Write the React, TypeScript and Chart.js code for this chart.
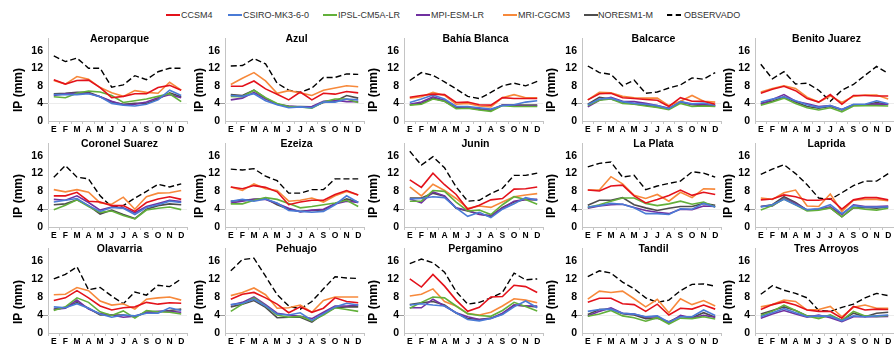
import React, { useEffect, useRef } from "react";
import { Chart, registerables } from "chart.js";

Chart.register(...registerables);

const MONTHS = ["E", "F", "M", "A", "M", "J", "J", "A", "S", "O", "N", "D"];
const STATIONS = [
  "Aeroparque", "Azul", "Bahía Blanca", "Balcarce", "Benito Juarez",
  "Coronel Suarez", "Ezeiza", "Junin", "La Plata", "Laprida",
  "Olavarria", "Pehuajo", "Pergamino", "Tandil", "Tres Arroyos",
];
const Y_TICKS = [0, 4, 8, 12, 16];
const Y_MAX = 18.8;
const Y_LABEL = "IP (mm)";

// One row per station (same order as STATIONS), 12 monthly values each
const CCSM4 = [
  [9.4, 8.4, 9.2, 9.3, 7.6, 5.3, 5.6, 6.2, 6.2, 7.6, 8.1, 7.0],
  [7.9, 7.9, 9.1, 7.3, 6.1, 4.8, 6.6, 4.8, 6.3, 6.1, 6.7, 6.4],
  [5.4, 5.8, 6.1, 6.0, 4.2, 4.3, 3.7, 3.6, 5.3, 5.1, 5.1, 5.1],
  [4.8, 6.2, 6.3, 5.3, 5.1, 4.9, 4.7, 3.3, 5.3, 4.5, 4.5, 3.8],
  [6.3, 7.2, 7.9, 6.9, 5.1, 4.3, 6.0, 3.8, 5.8, 5.8, 5.7, 5.7],
  [7.0, 7.0, 7.8, 5.8, 5.6, 4.8, 4.8, 3.5, 5.5, 6.3, 6.8, 6.2],
  [9.0, 8.6, 9.3, 8.9, 7.9, 5.0, 5.6, 6.0, 6.0, 7.3, 8.2, 7.2],
  [10.6, 8.9, 12.1, 9.5, 7.3, 4.0, 4.9, 6.1, 6.4, 8.5, 8.6, 9.0],
  [8.3, 8.1, 9.2, 9.4, 7.0, 5.4, 6.2, 7.1, 8.3, 7.1, 7.8, 7.3],
  [6.1, 6.3, 7.2, 6.8, 6.0, 6.0, 6.4, 4.0, 6.1, 6.6, 6.6, 6.1],
  [7.2, 7.8, 9.4, 7.8, 6.0, 5.1, 5.6, 5.8, 6.8, 6.4, 6.7, 6.6],
  [7.5, 8.6, 9.0, 7.8, 6.4, 4.5, 5.8, 4.6, 5.5, 7.8, 7.0, 6.7],
  [12.0, 10.2, 13.0, 10.4, 7.3, 4.8, 5.7, 8.0, 8.1, 10.6, 10.3, 9.0],
  [6.8, 7.7, 7.7, 6.5, 6.3, 4.8, 6.4, 4.0, 5.5, 5.3, 6.2, 5.3],
  [5.2, 6.3, 6.9, 6.2, 5.1, 4.8, 4.8, 3.3, 5.9, 5.1, 5.3, 5.2],
];

const CSIRO = [
  [6.0, 6.0, 6.0, 6.2, 5.5, 4.0, 3.6, 3.4, 3.8, 4.8, 7.0, 5.8],
  [5.8, 5.6, 6.2, 4.6, 3.7, 3.0, 3.2, 3.0, 4.3, 4.3, 5.0, 4.8],
  [4.2, 5.0, 5.9, 5.0, 3.3, 3.3, 3.0, 2.7, 3.5, 3.7, 4.3, 4.6],
  [3.7, 5.0, 5.2, 4.4, 4.0, 3.8, 3.5, 2.8, 4.4, 3.9, 4.1, 3.6],
  [4.3, 5.0, 5.5, 4.6, 3.7, 3.1, 3.5, 2.6, 3.8, 3.8, 4.6, 3.9],
  [5.6, 6.0, 6.4, 4.8, 3.5, 4.4, 4.2, 2.8, 4.4, 5.0, 5.8, 5.5],
  [5.8, 6.2, 5.8, 6.3, 5.4, 3.7, 3.5, 3.3, 3.5, 5.0, 7.0, 5.5],
  [6.3, 6.4, 6.8, 6.6, 4.3, 2.4, 3.3, 2.1, 4.0, 5.2, 6.6, 6.0],
  [4.5, 4.8, 5.3, 5.1, 4.3, 3.0, 3.0, 2.8, 4.1, 4.0, 5.3, 4.5],
  [4.5, 5.0, 6.2, 5.0, 3.9, 4.1, 5.0, 3.0, 4.8, 4.5, 4.5, 4.5],
  [5.8, 5.6, 6.5, 5.5, 4.2, 3.5, 4.0, 3.8, 4.4, 4.4, 5.6, 5.0],
  [6.3, 6.6, 7.5, 6.0, 4.2, 4.0, 4.5, 2.8, 4.3, 5.8, 6.6, 6.2],
  [6.2, 6.5, 6.2, 6.0, 4.5, 3.0, 2.7, 3.2, 4.1, 5.8, 7.1, 5.6],
  [4.8, 5.2, 5.3, 4.4, 4.2, 3.6, 3.8, 2.4, 3.6, 3.6, 5.1, 3.9],
  [3.6, 4.5, 5.4, 4.5, 3.6, 3.8, 3.7, 2.7, 3.8, 3.6, 3.8, 4.0],
];

const IPSL = [
  [5.5, 5.3, 6.3, 6.8, 6.6, 5.8, 4.2, 4.6, 5.0, 5.6, 6.2, 4.4],
  [5.6, 5.5, 7.0, 5.3, 4.0, 3.3, 3.2, 2.9, 4.3, 5.0, 5.0, 4.2],
  [3.6, 3.8, 5.0, 4.5, 2.8, 2.9, 2.5, 2.2, 3.5, 3.3, 3.3, 3.3],
  [3.5, 4.7, 5.0, 4.0, 3.8, 3.4, 3.1, 2.6, 4.0, 3.3, 3.4, 3.3],
  [3.6, 4.3, 5.2, 4.0, 3.0, 2.5, 3.0, 2.1, 3.4, 3.5, 3.5, 3.4],
  [3.9, 4.9, 6.1, 4.6, 3.3, 3.6, 2.6, 1.8, 3.8, 4.2, 4.5, 3.9],
  [5.2, 5.2, 6.0, 6.6, 6.2, 5.3, 4.3, 4.6, 5.0, 5.4, 6.0, 4.6],
  [5.8, 5.8, 8.2, 8.0, 5.6, 3.6, 3.8, 2.8, 5.0, 6.8, 6.2, 5.1],
  [4.4, 5.0, 5.8, 6.5, 6.5, 5.3, 4.8, 5.2, 5.8, 5.1, 5.6, 4.5],
  [3.8, 4.8, 6.3, 5.0, 3.6, 3.8, 4.3, 2.3, 4.4, 4.0, 3.8, 4.2],
  [5.0, 5.8, 7.8, 6.8, 4.7, 3.9, 4.9, 3.3, 5.0, 4.7, 4.6, 4.2],
  [4.8, 6.4, 7.8, 6.0, 4.0, 3.5, 3.7, 2.7, 4.0, 5.6, 5.2, 4.8],
  [5.5, 6.8, 8.0, 7.8, 6.0, 4.3, 3.9, 3.7, 5.0, 6.8, 5.9, 4.9],
  [3.7, 4.2, 5.0, 3.8, 3.4, 2.6, 3.4, 2.0, 3.3, 3.2, 3.6, 3.1],
  [3.9, 4.8, 6.2, 5.0, 3.8, 3.2, 4.0, 2.8, 4.8, 3.8, 3.7, 3.9],
];

const MPI = [
  [5.8, 6.2, 6.3, 6.3, 5.5, 4.5, 3.7, 3.8, 4.3, 5.3, 6.0, 5.3],
  [4.8, 5.2, 6.5, 5.0, 3.8, 3.4, 3.2, 3.3, 4.5, 4.7, 4.4, 4.4],
  [3.8, 4.3, 5.5, 4.7, 3.3, 3.0, 2.8, 2.5, 3.6, 3.6, 3.4, 3.5],
  [3.2, 4.7, 5.4, 4.5, 4.4, 4.0, 3.5, 2.9, 4.2, 3.8, 3.8, 3.5],
  [3.8, 4.9, 6.0, 4.5, 3.9, 3.3, 3.5, 2.6, 3.7, 3.7, 3.9, 3.8],
  [6.2, 6.0, 7.0, 5.5, 3.8, 4.5, 4.3, 3.2, 4.6, 5.3, 6.0, 5.7],
  [5.4, 5.8, 6.2, 6.2, 5.3, 4.2, 3.4, 3.8, 4.0, 5.2, 5.8, 5.5],
  [6.3, 5.4, 7.9, 7.0, 4.3, 3.7, 2.8, 2.6, 4.2, 5.8, 6.2, 6.2],
  [4.2, 4.7, 5.0, 5.1, 4.4, 3.7, 3.3, 3.0, 4.0, 3.9, 4.7, 4.6],
  [4.6, 4.7, 6.5, 5.3, 3.8, 4.0, 4.5, 2.8, 5.0, 4.6, 4.6, 4.7],
  [5.2, 5.5, 7.3, 5.3, 4.3, 4.0, 3.5, 3.7, 4.6, 4.8, 4.8, 4.6],
  [6.2, 6.8, 8.0, 6.3, 4.4, 4.0, 3.7, 3.2, 4.6, 6.0, 6.0, 6.2],
  [5.6, 5.6, 7.5, 6.0, 4.5, 3.6, 3.0, 3.2, 4.4, 6.2, 6.0, 6.0],
  [3.8, 4.8, 5.6, 4.4, 4.2, 3.5, 3.7, 2.2, 3.9, 3.3, 3.9, 3.5],
  [3.3, 4.2, 5.0, 4.2, 3.5, 4.0, 3.4, 2.5, 3.6, 3.6, 3.6, 3.7],
];

const MRI = [
  [9.2, 8.4, 10.1, 9.5, 7.6, 6.4, 5.6, 6.9, 6.5, 6.3, 8.8, 7.0],
  [8.3, 9.7, 11.0, 9.1, 6.3, 6.9, 6.4, 5.8, 7.0, 7.5, 8.0, 7.8],
  [5.2, 5.5, 6.5, 5.8, 3.8, 4.0, 3.4, 3.2, 5.3, 6.0, 5.3, 5.3],
  [4.8, 6.5, 6.4, 5.6, 5.3, 5.2, 5.2, 3.5, 4.5, 5.8, 4.5, 4.3],
  [6.6, 7.4, 8.0, 7.4, 5.4, 4.3, 5.7, 4.2, 5.6, 5.9, 5.9, 5.0],
  [8.4, 7.9, 8.4, 7.8, 5.4, 5.1, 6.7, 4.0, 6.8, 7.6, 7.7, 8.2],
  [9.0, 8.2, 9.7, 8.6, 8.2, 5.8, 6.0, 6.5, 5.6, 7.0, 8.0, 7.2],
  [9.0, 7.0, 9.6, 8.2, 6.4, 4.2, 4.7, 4.4, 5.6, 6.8, 7.2, 7.5],
  [8.3, 8.3, 11.3, 9.7, 7.1, 6.4, 7.3, 5.8, 7.8, 6.6, 8.6, 8.5],
  [6.5, 6.2, 7.7, 8.3, 4.7, 4.6, 7.4, 3.5, 6.0, 6.2, 6.2, 5.9],
  [8.5, 8.6, 10.1, 9.4, 7.1, 6.2, 6.5, 5.3, 7.5, 7.8, 8.0, 7.3],
  [8.3, 9.0, 10.0, 8.5, 5.5, 5.6, 6.2, 4.6, 7.2, 8.0, 8.0, 8.0],
  [8.2, 8.6, 9.8, 7.0, 6.0, 4.3, 4.0, 4.6, 6.0, 7.6, 7.3, 6.7],
  [7.5, 9.3, 9.0, 9.3, 7.6, 5.8, 7.5, 4.5, 7.6, 6.3, 7.2, 6.0],
  [5.8, 6.3, 7.3, 7.0, 5.1, 5.2, 5.9, 3.6, 5.7, 6.2, 5.5, 5.5],
];

const NORESM = [
  [6.2, 6.3, 6.5, 6.5, 5.5, 4.3, 3.8, 4.0, 4.0, 5.0, 6.4, 5.5],
  [6.0, 5.8, 7.0, 5.2, 3.8, 3.3, 3.3, 3.2, 4.2, 4.5, 5.8, 5.2],
  [3.7, 4.0, 5.2, 4.5, 3.0, 3.0, 2.6, 2.4, 3.6, 3.6, 3.6, 3.6],
  [3.8, 5.4, 5.0, 4.3, 3.9, 3.6, 3.2, 2.8, 4.4, 3.7, 3.5, 3.4],
  [4.0, 4.5, 5.5, 4.3, 3.3, 2.9, 3.3, 2.5, 3.7, 3.7, 4.2, 3.8],
  [5.0, 5.2, 6.1, 4.8, 2.9, 3.8, 2.8, 1.9, 4.0, 4.8, 5.2, 5.0],
  [5.8, 6.0, 6.2, 6.4, 5.0, 4.0, 3.5, 3.7, 3.8, 5.2, 6.3, 5.6],
  [6.5, 6.5, 7.6, 6.9, 4.2, 3.6, 2.9, 2.4, 4.4, 5.6, 6.2, 6.1],
  [4.9, 6.0, 6.0, 6.6, 5.0, 4.3, 3.7, 4.2, 4.6, 4.6, 5.3, 4.9],
  [4.6, 5.0, 6.8, 5.5, 3.8, 4.0, 4.3, 2.3, 4.3, 4.4, 4.2, 4.5],
  [5.3, 5.6, 6.8, 5.5, 4.0, 4.0, 4.0, 3.6, 4.6, 4.7, 5.0, 5.3],
  [5.8, 6.4, 7.2, 5.7, 3.4, 3.5, 3.5, 2.4, 4.3, 5.6, 5.8, 5.8],
  [6.3, 6.7, 7.0, 6.2, 4.4, 3.2, 3.0, 3.3, 4.2, 6.2, 6.0, 5.8],
  [4.1, 5.2, 5.3, 4.3, 4.0, 3.2, 3.3, 2.5, 3.7, 3.4, 4.5, 3.5],
  [4.2, 5.0, 5.8, 5.0, 3.8, 3.6, 3.8, 2.8, 4.4, 3.6, 4.4, 4.6],
];

const OBSERVADO = [
  [14.8, 13.5, 14.3, 12.0, 12.0, 7.7, 8.2, 10.3, 9.4, 11.2, 12.0, 12.0],
  [12.5, 12.6, 14.2, 13.0, 8.6, 7.0, 6.5, 7.5, 9.9, 9.9, 10.7, 10.6],
  [9.2, 11.0, 10.4, 8.9, 7.3, 5.6, 5.1, 6.5, 8.0, 8.6, 8.0, 9.0],
  [12.5, 11.0, 10.6, 8.0, 9.3, 6.3, 6.6, 7.5, 8.2, 9.8, 9.5, 11.0],
  [12.9, 9.6, 11.2, 8.4, 8.6, 7.0, 4.5, 7.0, 8.3, 10.4, 12.4, 10.8],
  [11.2, 13.8, 11.2, 10.8, 7.0, 4.5, 4.8, 6.5, 8.0, 9.6, 9.0, 9.7],
  [13.0, 12.8, 13.1, 11.4, 10.4, 7.6, 7.6, 8.4, 8.4, 10.8, 10.8, 10.8],
  [17.0, 13.9, 15.8, 13.3, 9.0, 5.8, 6.0, 7.5, 8.7, 11.6, 11.6, 12.1],
  [13.5, 14.3, 14.6, 11.2, 11.6, 8.4, 9.2, 9.8, 10.3, 12.4, 12.1, 11.2],
  [11.8, 13.0, 14.0, 12.0, 9.5, 6.5, 6.2, 7.7, 9.3, 10.3, 10.3, 12.0],
  [12.0, 13.0, 14.7, 9.6, 10.1, 8.2, 6.5, 9.1, 8.4, 10.6, 10.3, 12.0],
  [13.8, 16.3, 16.6, 12.6, 8.5, 6.0, 5.3, 7.0, 9.8, 12.5, 12.2, 12.1],
  [15.4, 16.4, 15.6, 13.5, 9.2, 6.4, 6.8, 7.8, 9.0, 13.3, 11.8, 12.0],
  [12.5, 13.8, 13.3, 11.3, 9.8, 7.8, 6.8, 7.3, 9.4, 10.8, 10.9, 10.4],
  [8.6, 10.5, 9.5, 8.8, 7.8, 5.0, 4.8, 5.7, 6.4, 7.8, 8.8, 8.3],
];

const SERIES_NAMES = ["CCSM4", "CSIRO-MK3-6-0", "IPSL-CM5A-LR", "MPI-ESM-LR", "MRI-CGCM3", "NORESM1-M", "OBSERVADO"];
const SERIES_DATA = [CCSM4, CSIRO, IPSL, MPI, MRI, NORESM, OBSERVADO];
const SERIES_COLORS = ["#e3121b", "#4a7bd6", "#62b03a", "#7030a0", "#f7893b", "#4d4d4d", "#000000"];

// ---- layout (styles only) ----
const FONT = '"Liberation Sans", Arial, Helvetica, sans-serif';
const AXIS_X = [48, 225, 404, 582, 755];
const YLABEL_OFF = [29, 25, 30, 30, 26];
const ROW_BOTTOM = [121, 227, 333];
const ROW_PLOT_H = [84, 85, 86];
const Y_AXIS_W = 48;
const X_AXIS_H = 14;
const PAD_TOP = 10;
const PAD_RIGHT = 4;
const PLOT_W = 139;
const LEGEND_LINE_X = [166, 228, 323, 416, 503, 584, 667];
const LEGEND_TEXT_X = [181, 243, 338, 431, 518, 598, 684];
const LEGEND_Y = 15;

const decorPlugin = {
  id: "decor",
  beforeDatasetsDraw(chart: any) {
    const { ctx, chartArea } = chart;
    const y4 = Math.round(chart.scales.y.getPixelForValue(4)) + 0.5;
    ctx.save();
    ctx.lineWidth = 1;
    ctx.strokeStyle = "#ececec";
    ctx.beginPath();
    ctx.moveTo(chartArea.left, y4);
    ctx.lineTo(chartArea.right, y4);
    ctx.stroke();
    ctx.strokeStyle = "#9a9a9a";
    ctx.beginPath();
    ctx.moveTo(chartArea.left - 5, y4);
    ctx.lineTo(chartArea.left, y4);
    ctx.stroke();
    ctx.restore();
  },
  afterDraw(chart: any, _args: any, opts: any) {
    const { ctx, chartArea } = chart;
    ctx.save();
    ctx.fillStyle = "#000";
    ctx.textAlign = "center";
    ctx.textBaseline = "middle";
    ctx.font = `bold 10.5px ${FONT}`;
    ctx.fillText(opts.title, (chartArea.left + chartArea.right) / 2 + 2, chartArea.top + 1);
    ctx.translate(chartArea.left - opts.yOff, chartArea.bottom - 31);
    ctx.rotate(-Math.PI / 2);
    ctx.font = `bold 12px ${FONT}`;
    ctx.fillText(Y_LABEL, 0, 0);
    ctx.restore();
  },
};

function Panel({ idx }: { idx: number }) {
  const ref = useRef<HTMLCanvasElement | null>(null);
  const row = Math.floor(idx / 5);
  const col = idx % 5;
  const width = Y_AXIS_W + PLOT_W + PAD_RIGHT;
  const height = PAD_TOP + ROW_PLOT_H[row] + X_AXIS_H;
  const left = AXIS_X[col] - Y_AXIS_W;
  const top = ROW_BOTTOM[row] - ROW_PLOT_H[row] - PAD_TOP;

  useEffect(() => {
    if (!ref.current) return;
    const datasets = SERIES_NAMES.map((name, s) => ({
      label: name,
      data: SERIES_DATA[s][idx],
      borderColor: SERIES_COLORS[s],
      backgroundColor: SERIES_COLORS[s],
      borderWidth: s === 6 ? 1.4 : 1.6,
      borderDash: s === 6 ? [6, 3] : [],
      pointRadius: 0,
      tension: 0,
      fill: false,
    }));
    const chart = new Chart(ref.current, {
      type: "line",
      data: { labels: MONTHS, datasets },
      options: {
        animation: false,
        responsive: false,
        events: [],
        layout: { padding: { top: PAD_TOP, right: PAD_RIGHT, left: 0, bottom: 0 } },
        plugins: {
          legend: { display: false },
          title: { display: false },
          tooltip: { enabled: false },
          decor: { title: STATIONS[idx], yOff: YLABEL_OFF[col] },
        } as any,
        scales: {
          x: {
            type: "category",
            offset: true,
            grid: {
              display: true,
              drawOnChartArea: false,
              drawTicks: true,
              tickLength: 3,
              color: "#c4c4c4",
              offset: true,
            },
            border: { display: true, color: "#c4c4c4", width: 1 },
            ticks: {
              autoSkip: false,
              maxRotation: 0,
              minRotation: 0,
              padding: 1,
              color: "#000",
              font: { family: FONT, weight: "bold", size: 8.5 },
            },
            afterFit: (scale: any) => {
              scale.height = X_AXIS_H;
            },
          },
          y: {
            min: 0,
            max: Y_MAX,
            grid: { display: false, drawTicks: false },
            border: { display: true, color: "#c4c4c4", width: 1 },
            ticks: {
              padding: 5,
              color: "#000",
              font: { family: FONT, weight: "bold", size: 10.5 },
              callback: (v: any) => String(v),
            },
            afterBuildTicks: (scale: any) => {
              scale.ticks = Y_TICKS.map((v) => ({ value: v }));
            },
            afterFit: (scale: any) => {
              scale.width = Y_AXIS_W;
            },
          },
        },
      },
      plugins: [decorPlugin],
    } as any);
    return () => chart.destroy();
  }, [idx]);

  return (
    <canvas
      ref={ref}
      width={width}
      height={height}
      style={{ position: "absolute", left, top, width, height }}
    />
  );
}

function Legend() {
  return (
    <>
      {SERIES_NAMES.map((name, s) => (
        <React.Fragment key={name}>
          <div
            style={{
              position: "absolute",
              left: LEGEND_LINE_X[s],
              top: LEGEND_Y - 1,
              width: 14,
              height: 0,
              borderTop: s === 6 ? `2px dashed ${SERIES_COLORS[s]}` : `2px solid ${SERIES_COLORS[s]}`,
            }}
          />
          <div
            style={{
              position: "absolute",
              left: LEGEND_TEXT_X[s],
              top: LEGEND_Y - 6,
              fontFamily: FONT,
              fontSize: 9,
              lineHeight: "12px",
              color: "#333",
              whiteSpace: "nowrap",
            }}
          >
            {name}
          </div>
        </React.Fragment>
      ))}
    </>
  );
}

export default function App() {
  return (
    <div
      style={{
        position: "fixed",
        left: 0,
        top: 0,
        width: 894,
        height: 347,
        overflow: "hidden",
        background: "#fff",
      }}
    >
      <Legend />
      {STATIONS.map((_, i) => (
        <Panel key={i} idx={i} />
      ))}
    </div>
  );
}
